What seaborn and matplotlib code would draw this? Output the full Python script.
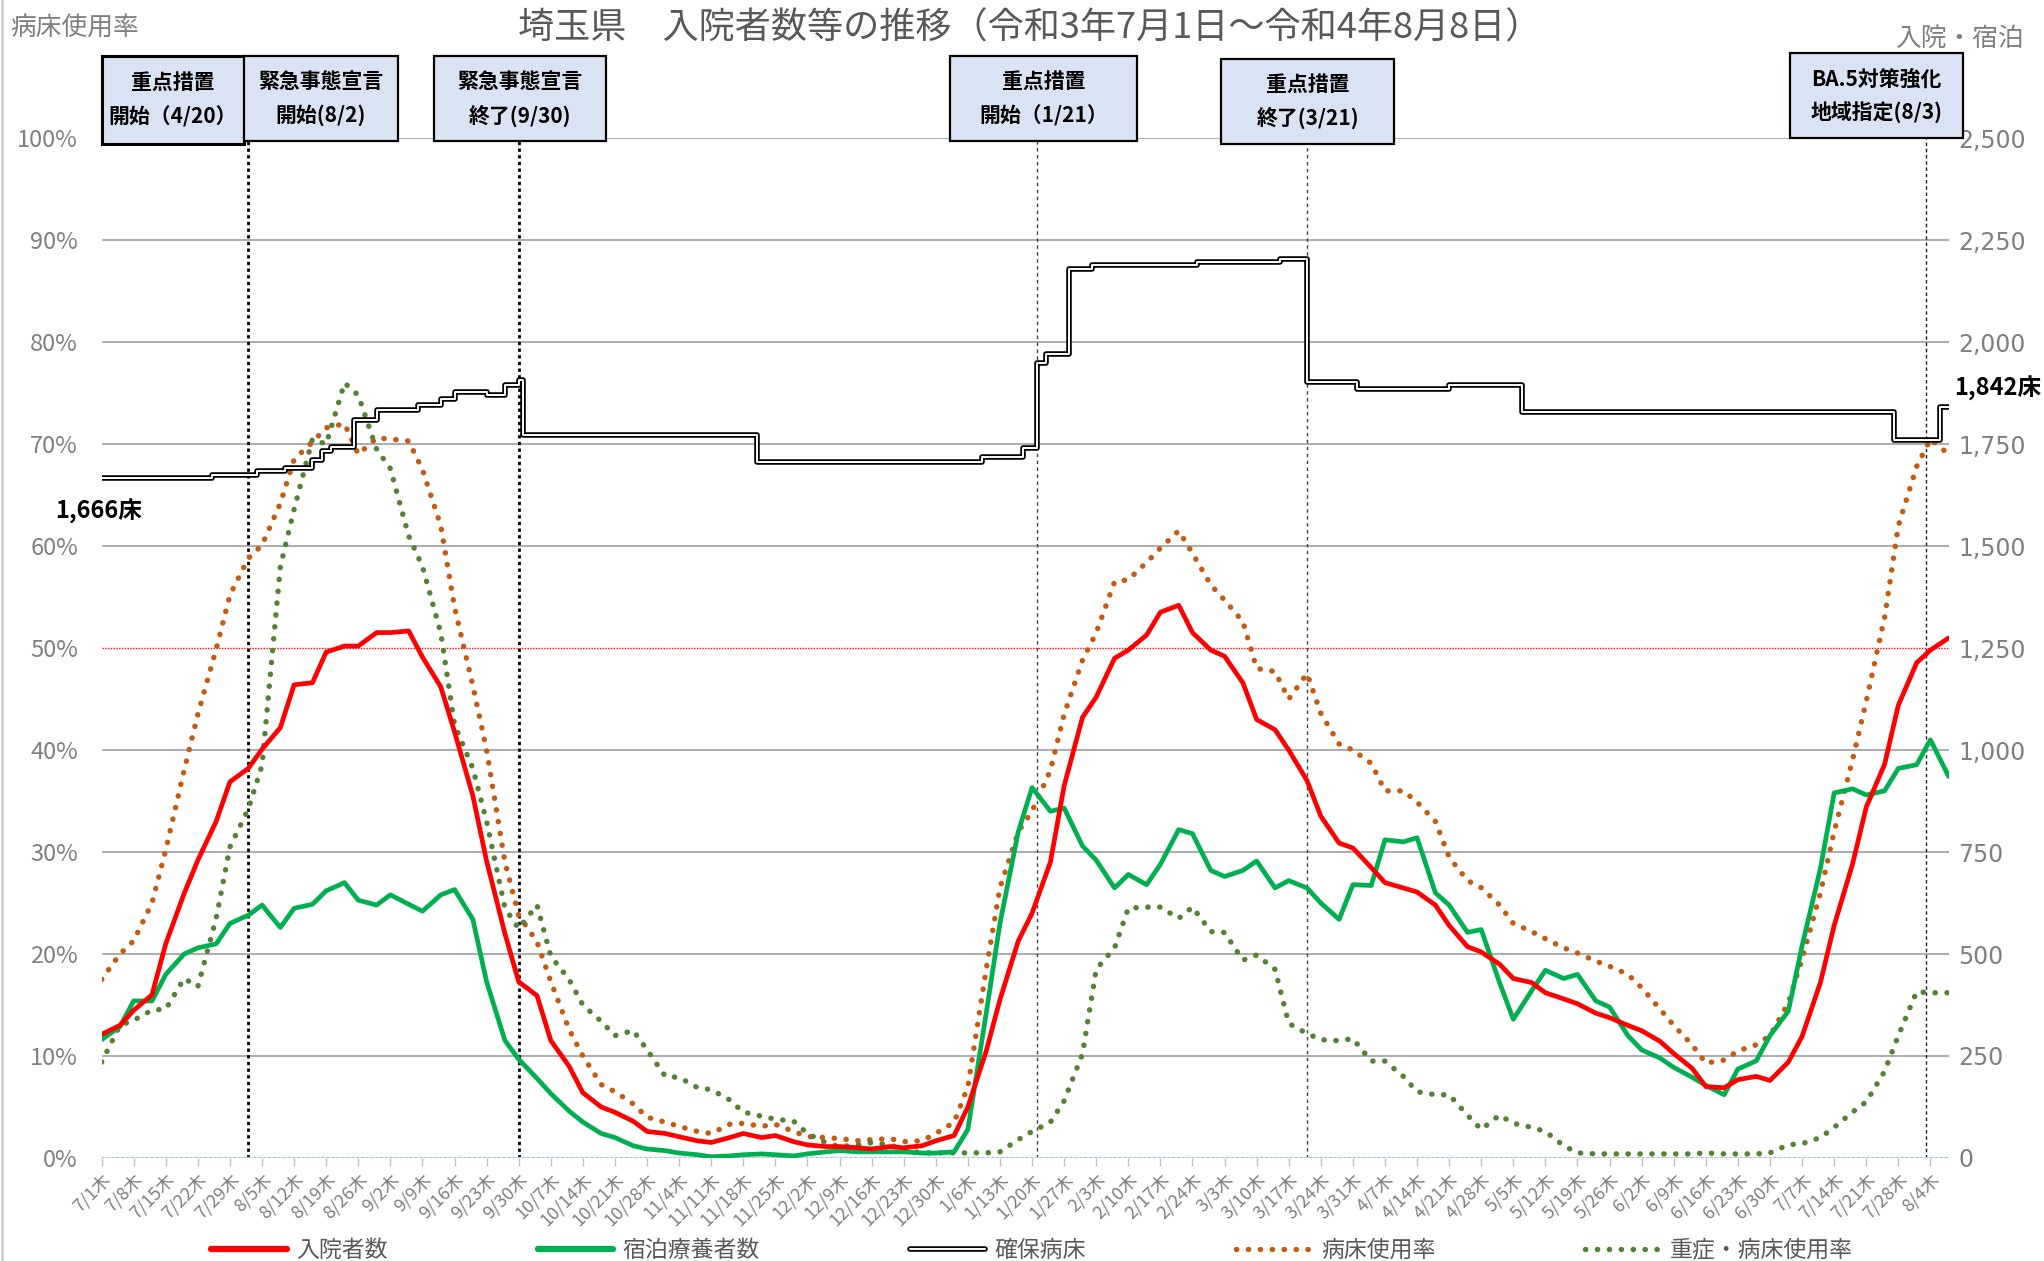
import numpy as np
import pandas as pd
import matplotlib
matplotlib.use("Agg")
import matplotlib.pyplot as plt
import matplotlib.ticker as mticker
from matplotlib.patches import Rectangle
from matplotlib.lines import Line2D
import seaborn as sns

# ---------------- data ----------------
start_date = pd.Timestamp("2021-07-01")
end_date = pd.Timestamp("2022-08-08")

# sample days (days since 2021-07-01): every Thursday and the following Monday
sample_day = [0, 4, 7, 11, 14, 18, 21, 25, 28, 32,
              35, 39, 42, 46, 49, 53, 56, 60, 63, 67,
              70, 74, 77, 81, 84, 88, 91, 95, 98, 102,
              105, 109, 112, 116, 119, 123, 126, 130, 133, 137,
              140, 144, 147, 151, 154, 158, 161, 165, 168, 172,
              175, 179, 182, 186, 189, 193, 196, 200, 203, 207,
              210, 214, 217, 221, 224, 228, 231, 235, 238, 242,
              245, 249, 252, 256, 259, 263, 266, 270, 273, 277,
              280, 284, 287, 291, 294, 298, 301, 305, 308, 312,
              315, 319, 322, 326, 329, 333, 336, 340, 343, 347,
              350, 354, 357, 361, 364, 368, 371, 375, 378, 382,
              385, 389, 392, 396, 399, 403]

# 入院者数 (people, right axis)
inpatients = [303, 325, 362, 400, 525, 648, 730, 825, 922, 955,
              1002, 1055, 1160, 1165, 1240, 1255, 1255, 1288, 1288, 1292,
              1228, 1155, 1045, 888, 728, 550, 432, 398, 288, 225,
              160, 125, 112, 90, 65, 60, 52, 42, 38, 50,
              60, 50, 55, 40, 32, 28, 28, 25, 22, 28,
              25, 30, 42, 55, 125, 262, 388, 532, 600, 725,
              912, 1080, 1130, 1225, 1245, 1282, 1338, 1355, 1288, 1245,
              1230, 1165, 1075, 1050, 1000, 925, 838, 772, 760, 712,
              675, 662, 652, 620, 570, 518, 505, 475, 440, 430,
              405, 390, 378, 355, 344, 325, 312, 286, 256, 220,
              175, 172, 192, 200, 190, 235, 298, 430, 570, 720,
              860, 965, 1110, 1214, 1245, 1275]

# 宿泊療養者数 (people, right axis)
hotel = [290, 322, 385, 385, 450, 500, 515, 525, 575, 595,
         620, 565, 612, 622, 655, 675, 632, 620, 645, 622,
         605, 645, 658, 585, 432, 288, 242, 195, 158, 115,
         88, 60, 50, 30, 22, 18, 12, 8, 3, 5,
         8, 10, 8, 5, 10, 15, 18, 15, 15, 15,
         15, 12, 12, 15, 70, 355, 575, 800, 908, 850,
         858, 765, 730, 662, 695, 670, 720, 805, 795, 705,
         690, 705, 728, 662, 680, 662, 625, 585, 670, 668,
         780, 775, 785, 650, 620, 553, 560, 430, 340, 410,
         460, 440, 450, 385, 370, 300, 265, 245, 222, 198,
         178, 155, 218, 238, 300, 360, 520, 710, 895, 905,
         890, 900, 955, 964, 1025, 935]

# 病床使用率 (%, left axis)
bed_rate = [17.5, 20.0, 21.3, 25.0, 30.2, 38.0, 43.5, 49.9, 55.2, 58.8,
            60.1, 64.2, 68.5, 70.2, 71.6, 72.0, 69.0, 70.6, 70.5, 70.3,
            67.5, 62.0, 54.0, 46.3, 40.0, 29.0, 23.8, 21.2, 17.3, 12.6,
            10.0, 7.2, 6.5, 5.3, 4.0, 3.5, 3.1, 2.6, 2.4, 3.3,
            3.4, 3.1, 3.3, 2.6, 2.1, 2.0, 1.9, 1.7, 1.8, 1.9,
            1.6, 1.7, 2.4, 3.5, 7.0, 18.5, 26.5, 32.0, 34.0, 38.0,
            43.5, 48.8, 51.5, 56.5, 56.7, 58.4, 59.8, 61.5, 59.3, 56.2,
            54.7, 52.6, 48.0, 47.7, 45.0, 47.5, 43.6, 40.6, 40.0, 38.7,
            36.0, 36.0, 34.9, 33.0, 29.5, 27.2, 26.5, 24.8, 23.0, 22.2,
            21.5, 20.6, 20.1, 19.3, 18.8, 18.0, 16.7, 14.6, 13.0, 11.1,
            9.3, 9.6, 10.5, 11.1, 12.0, 15.2, 19.5, 26.0, 32.0, 39.0,
            44.8, 53.0, 62.0, 67.8, 70.5, 69.0]

# 重症・病床使用率 (%, left axis)
severe_rate = [9.4, 13.0, 13.5, 14.5, 14.6, 17.6, 16.8, 23.5, 30.5, 34.2,
               38.5, 58.0, 63.6, 70.5, 70.0, 76.0, 74.8, 69.5, 67.6, 61.0,
               58.0, 51.5, 42.5, 38.2, 33.0, 24.5, 22.5, 24.8, 19.8, 17.5,
               15.0, 13.4, 12.0, 12.5, 10.6, 8.0, 7.9, 6.9, 6.7, 5.7,
               4.5, 4.1, 3.8, 3.6, 2.4, 1.5, 1.1, 1.3, 1.5, 1.3,
               0.8, 0.5, 0.5, 0.5, 0.5, 0.5, 0.6, 1.8, 2.6, 3.5,
               5.6, 10.2, 18.5, 20.6, 24.5, 24.6, 24.6, 23.5, 24.6, 22.2,
               22.1, 19.4, 19.9, 18.5, 13.2, 12.2, 11.6, 11.5, 11.7, 9.5,
               9.5, 8.0, 6.5, 6.2, 6.2, 4.2, 2.8, 4.2, 3.4, 3.0,
               2.6, 1.2, 0.5, 0.4, 0.4, 0.4, 0.4, 0.4, 0.4, 0.4,
               0.5, 0.4, 0.4, 0.4, 0.5, 1.3, 1.4, 2.0, 3.0, 4.5,
               5.5, 8.5, 12.0, 16.3, 16.2, 16.2]

# 確保病床 (beds, right axis): day a level starts, and the level
bed_day = [0, 24, 34, 40, 46, 48, 50, 55, 60, 69,
           74, 77, 84, 88, 91, 92, 143, 192, 201, 204,
           206, 211, 216, 239, 257, 263, 274, 294, 310, 391,
           401, 403]
bed_val = [1666, 1675, 1683, 1691, 1712, 1733, 1742, 1809, 1834, 1847,
           1861, 1877, 1870, 1894, 1908, 1772, 1707, 1718, 1740, 1948,
           1972, 2180, 2190, 2197, 2205, 1902, 1884, 1895, 1830, 1760,
           1842, 1842]

# events
event_dates = ["2021-08-02", "2021-09-30", "2022-01-21", "2022-03-21", "2022-08-03"]
event_texts = [("緊急事態宣言", "開始(8/2)"), ("緊急事態宣言", "終了(9/30)"),
               ("重点措置", "開始（1/21）"), ("重点措置", "終了(3/21)"),
               ("BA.5対策強化", "地域指定(8/3)")]
first_box = ("重点措置", "開始（4/20）")

title = "埼玉県　入院者数等の推移（令和3年7月1日～令和4年8月8日）"
legend_labels = ["入院者数", "宿泊療養者数", "確保病床", "病床使用率", "重症・病床使用率"]

# ---------------- styling ----------------
sns.set_theme(style="white")
plt.rcParams['font.family'] = ['Noto Sans CJK JP', 'DejaVu Sans']

RED = "#ff0000"
GREEN = "#00b050"
ORANGE = "#c55a11"
DGREEN = "#548235"
GRAY_TXT = "#7f7f7f"
DOT = (0, (0.05, 2.15))
DOT_LW = 3.9

dates = start_date + pd.to_timedelta(sample_day, unit="D")
df = pd.DataFrame({"date": dates, "inpatients": inpatients, "hotel": hotel,
                   "bed_rate": bed_rate, "severe_rate": severe_rate})
beds = pd.DataFrame({"date": start_date + pd.to_timedelta(bed_day, unit="D"),
                     "beds": bed_val})

fig = plt.figure(figsize=(20.44, 12.61), dpi=100)
ax = fig.add_axes([0.0497, 0.0817, 0.9037, 0.8087])
ax2 = ax.twinx()

# event lines
ev_styles = [dict(color="black", lw=2.0, ls=(0, (1.2, 1.2))),
             dict(color="black", lw=2.0, ls=(0, (1.2, 1.2))),
             dict(color="#404040", lw=1.0, ls=(0, (2.5, 2.5))),
             dict(color="#404040", lw=1.0, ls=(0, (2.5, 2.5))),
             dict(color="#202020", lw=1.0, ls=(0, (2.5, 2.0)))]
for d, st in zip(event_dates, ev_styles):
    ax.axvline(pd.Timestamp(d), zorder=1.5, **st)

# dotted rate series (left axis)
sns.lineplot(data=df, x="date", y="bed_rate", ax=ax, color=ORANGE, lw=DOT_LW,
             linestyle=DOT, dash_capstyle="round", errorbar=None, zorder=3)
sns.lineplot(data=df, x="date", y="severe_rate", ax=ax, color=DGREEN, lw=DOT_LW,
             linestyle=DOT, dash_capstyle="round", errorbar=None, zorder=3)

# count series (right axis)
sns.lineplot(data=beds, x="date", y="beds", ax=ax2, color="black", lw=4.0,
             drawstyle="steps-post", errorbar=None)
sns.lineplot(data=beds, x="date", y="beds", ax=ax2, color="white", lw=1.4,
             drawstyle="steps-post", errorbar=None)
sns.lineplot(data=df, x="date", y="hotel", ax=ax2, color=GREEN, lw=3.4, errorbar=None)
sns.lineplot(data=df, x="date", y="inpatients", ax=ax2, color=RED, lw=3.4, errorbar=None)

# axes
ax.set_xlim(start_date, end_date)
ax.set_ylim(0, 100)
ax2.set_ylim(0, 2500)
ax.set_yticks(np.arange(0, 101, 10))
ax2.set_yticks(np.arange(0, 2501, 250))
ax.yaxis.set_major_formatter(mticker.FuncFormatter(lambda v, p: f"{v:.0f}%"))
ax2.yaxis.set_major_formatter(mticker.FuncFormatter(lambda v, p: f"{v:,.0f}"))
ax.grid(axis="y", color="#a6a6a6", lw=1.3)
ax.grid(axis="x", visible=False)
ax.set_axisbelow(True)
gls = ax.get_ygridlines()
gls[0].set_visible(False)
gls[5].set_visible(False)
ax.axhline(50, color=RED, lw=1.0, ls=(0, (1, 1)), zorder=1.6)
ax.axhline(0, color="#d9d9d9", lw=2.0, zorder=1.55)
ax.axhline(0, color="#9dc3e6", lw=1.6, ls=(0, (1, 1.2)), zorder=1.6)

thursdays = pd.date_range(start_date, end_date, freq="7D")
ax.set_xticks(thursdays)
ax.set_xticklabels([f"{d.month}/{d.day}木" for d in thursdays], rotation=45,
                   ha="right", va="top", rotation_mode="anchor")
ax.tick_params(axis="x", length=6, width=1, color="#bfbfbf", labelsize=13,
               labelcolor=GRAY_TXT, pad=3, direction="out", bottom=True)
ax.tick_params(axis="y", length=0, labelsize=17, labelcolor=GRAY_TXT, pad=17)
ax2.tick_params(axis="y", length=0, labelsize=17, labelcolor=GRAY_TXT, pad=7)
for lab in ax2.get_yticklabels():
    lab.set_fontfamily("DejaVu Sans")
for a in (ax, ax2):
    a.set_xlabel("")
    a.set_ylabel("")
    for s in a.spines.values():
        s.set_visible(False)

# end-point labels of secured beds
ax2.annotate(f"{bed_val[0]:,}床", xy=(beds["date"].iloc[0], bed_val[0]), xytext=(-2, -24),
             textcoords="offset points", ha="center", va="center", fontsize=17,
             fontweight="bold", color="black", annotation_clip=False)
ax2.annotate(f"{bed_val[-1]:,}床", xy=(end_date, bed_val[-1]), xytext=(35, 13),
             textcoords="offset points", ha="center", va="center", fontsize=17,
             fontweight="bold", color="black", annotation_clip=False)

# texts
fig.text(0.504, 0.977, title, ha="center", va="center", fontsize=26, color="#595959")
fig.text(0.005, 0.977, "病床使用率", ha="left", va="center", fontsize=18.5, color=GRAY_TXT)
fig.text(0.990, 0.969, "入院・宿泊", ha="right", va="center", fontsize=18.5, color=GRAY_TXT)

# annotation boxes
boxes = [(0.0497, 0.8862, 0.0695, 0.0693, first_box, 2.2),
         (0.1193, 0.8883, 0.0753, 0.0672, event_texts[0], 1.6),
         (0.2124, 0.8883, 0.0842, 0.0672, event_texts[1], 1.6),
         (0.4649, 0.8883, 0.0912, 0.0672, event_texts[2], 1.6),
         (0.5976, 0.8862, 0.0842, 0.0672, event_texts[3], 1.6),
         (0.8756, 0.8904, 0.0848, 0.0672, event_texts[4], 1.6)]
for x0, y0, w, h, (l1, l2), lw in boxes:
    fig.add_artist(Rectangle((x0, y0), w, h, transform=fig.transFigure,
                             facecolor="#dae3f3", edgecolor="black", lw=lw, zorder=5))
    fig.text(x0 + w / 2, y0 + h * 0.70, l1, ha="center", va="center", fontsize=15,
             fontweight="bold", color="black", zorder=6)
    fig.text(x0 + w / 2, y0 + h * 0.30, l2, ha="center", va="center", fontsize=15,
             fontweight="bold", color="black", zorder=6)

# left border line of the picture
fig.add_artist(Line2D([0.0012, 0.0012], [0, 1], transform=fig.transFigure,
                      color="#d0d0d0", lw=2))

# legend
handles = [Line2D([], [], color=RED, lw=4.5),
           Line2D([], [], color=GREEN, lw=4.5),
           (Line2D([], [], color="black", lw=4.0), Line2D([], [], color="white", lw=1.4)),
           Line2D([], [], color=ORANGE, lw=DOT_LW, ls=DOT, dash_capstyle="round"),
           Line2D([], [], color=DGREEN, lw=DOT_LW, ls=DOT, dash_capstyle="round")]
fig.legend(handles, legend_labels, loc="lower center", bbox_to_anchor=(0.505, -0.017),
           ncol=5, frameon=False, fontsize=16.5, handlelength=3.3, handletextpad=0.4,
           columnspacing=6.55, labelcolor="#595959")

fig.savefig("out.png", dpi=100, facecolor="white")
